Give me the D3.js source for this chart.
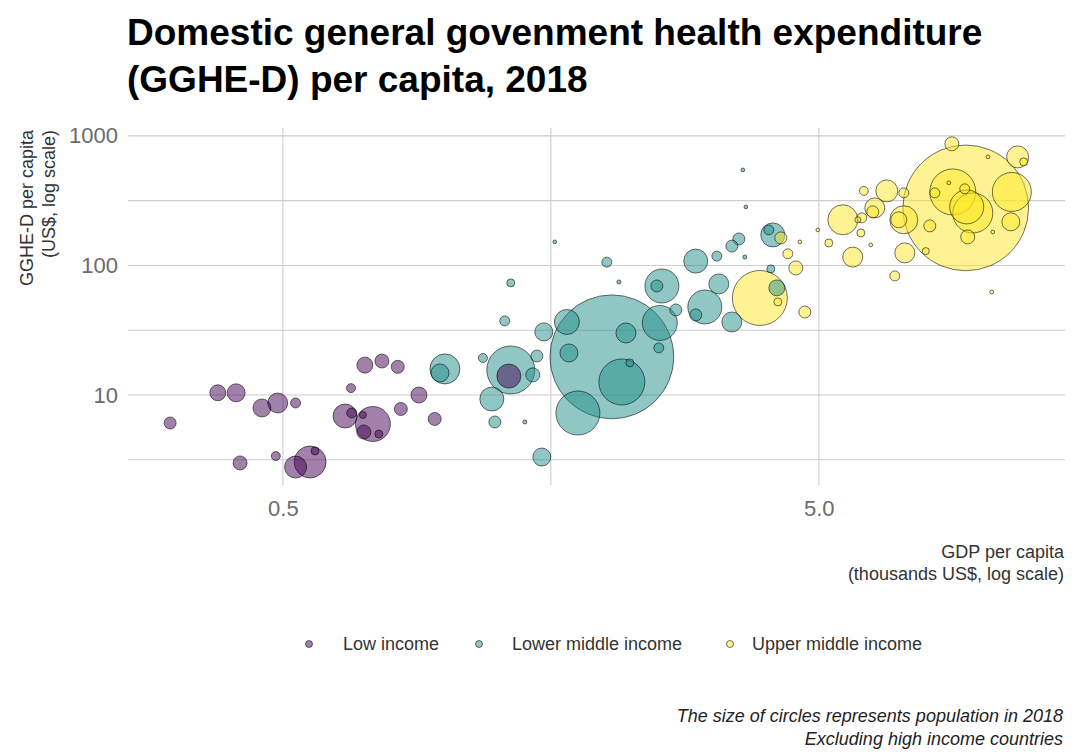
<!DOCTYPE html>
<html><head><meta charset="utf-8">
<script src="https://cdn.jsdelivr.net/npm/d3@7"></script>
<style>
body{margin:0;background:#fff;}
svg{display:block;font-family:"Liberation Sans",Arial,sans-serif;}
</style></head><body>
<svg id="chart" width="1072" height="754"></svg>
<script>
// ---------- data ----------
const groups = ["Low income", "Lower middle income", "Upper middle income"];
const groupColors = ["#440154", "#21908C", "#FDE725"];

// GDP per capita (thousands US$), GGHE-D per capita (US$), population (millions)
const lowGdp  = [0.308,0.378,0.409,0.416,0.457,0.489,0.528,0.485,0.562,0.528,0.574,0.670,0.711,0.765,0.819,0.897,0.830,0.960,0.653,0.736,0.672,0.705,0.708,0.755,1.320];
const lowGghe = [6.08,10.4,10.4,2.99,7.94,8.68,8.68,3.38,3.04,2.78,3.70,11.3,17.0,18.3,16.5,10.0,7.80,6.53,6.88,5.97,7.26,7.01,5.18,5.00,14.0];
const lowPop  = [7.5,15.6,20.8,11.2,20.8,26.7,4.5,3.3,77.8,33.4,2.3,3.3,15.6,11.2,9.3,15.6,9.3,9.3,40.8,94.8,4.5,1.5,11.2,2.3,40.8];

const lmGdp  = [1.608,2.011,1.331,2.118,1.297,2.548,2.493,2.947,3.064,2.055,1.694,1.534,2.183,2.525,2.705,1.709,2.514,2.145,2.22,1.776,1.331,1.463,1.489,1.181,1.227,1.243,1.414,1.521,1.003,0.982,3.608,3.655,4.103,4.033,3.547,3.441,3.226,3.639,3.254,2.947,3.441,4.068,4.175];
const lmGghe = [152,106,73.3,74.6,37.3,69.4,69.4,108,47.8,19.7,36.6,30.7,30.1,36.0,45.3,21.1,23.1,12.6,17.7,7.26,15.6,14.3,20.0,19.3,9.31,6.19,6.19,3.32,15.9,14.8,546,283,172,188,160,141,118,116,72.0,41.5,36.6,94.0,67.1];
const lmPop  = [0.05,4.5,2.3,0.09,4.5,88.9,7.5,40.8,88.9,1353,44.8,20.8,26.7,94.8,7.5,20.8,4.5,171,2.3,155.6,187,11.2,7.5,3.3,40.8,7.5,0.09,20.8,67.5,20.8,0.05,0.05,40.8,4.5,7.5,7.5,4.5,0.09,26.7,7.5,26.7,2.3,15.6];

const umGdp  = [4.247,3.881,4.193,4.377,4.53,4.708,5.22,4.609,4.979,5.544,5.914,6.016,5.99,5.785,6.067,6.359,6.304,6.696,6.25,7.204,7.05,7.204,7.235,6.93,7.917,8.055,9.40,8.891,9.44,9.69,9.36,8.23,8.74,8.855,11.75,12.06,10.34,11.46,11.41,9.48,10.56,10.51];
const umGghe = [163,56.1,52.3,123,95.7,43.7,149,152,188,225,225,233,178,116,376,278,259,376,144,225,225,363,125,83.0,129,202,278,369,283,254,390,363,434,868,688,630,688,369,217,166,181,62.4];
const umPop  = [7.5,250,2.3,4.5,11.2,7.5,2.3,0.05,0.05,67.5,0.83,4.5,2.3,26.7,3.3,26.7,7.5,33.4,0.05,57.8,15.6,4.5,26.7,4.5,1.5,7.5,1393,171,88.9,126.7,4.5,4.5,0.05,11.2,33.4,2.3,0.05,120,20.8,11.2,0.05,0.09];

const xTicks = [0.5, 5];
const xTickLabels = ["0.5", "5.0"];
const yTicks = [10, 100, 1000];
const yTickLabels = ["10", "100", "1000"];
const xLimits = [0.257, 14.4];
const yLimits = [2.02, 1150];
const popMax = 1400;

const titleLines = ["Domestic general govenment health expenditure", "(GGHE-D) per capita, 2018"];
const yTitleLines = ["GGHE-D per capita", "(US$, log scale)"];
const xTitleLines = ["GDP per capita", "(thousands US$, log scale)"];
const captionLines = ["The size of circles represents population in 2018", "Excluding high income countries"];

// ---------- build ----------
const seriesGdp = [lowGdp, lmGdp, umGdp];
const seriesGghe = [lowGghe, lmGghe, umGghe];
const seriesPop = [lowPop, lmPop, umPop];
const points = [];
groups.forEach((g, gi) => {
  seriesGdp[gi].forEach((v, i) => points.push({group: gi, gdp: v, gghe: seriesGghe[gi][i], pop: seriesPop[gi][i]}));
});
points.sort((a, b) => b.pop - a.pop);

const svg = d3.select("#chart");
const panel = {left: 128, right: 1065, top: 128, bottom: 485};

const x = d3.scaleLog().domain(xLimits).range([panel.left, panel.right]);
const y = d3.scaleLog().domain(yLimits).range([panel.bottom, panel.top]);
const r = d3.scaleSqrt().domain([0, popMax]).range([1.5, 63]);
const color = d3.scaleOrdinal().domain(d3.range(groups.length)).range(groupColors);

// minor gridlines (geometric midpoints between major breaks)
const xMajorAll = [0.05, 0.5, 5, 50];
const yMajorAll = [1, 10, 100, 1000, 10000];
const xMinor = d3.pairs(xMajorAll).map(([a, b]) => Math.sqrt(a * b)).filter(v => v > xLimits[0] && v < xLimits[1]);
const yMinor = d3.pairs(yMajorAll).map(([a, b]) => Math.sqrt(a * b)).filter(v => v > yLimits[0] && v < yLimits[1]);

const grid = svg.append("g").attr("stroke", "#cdcdcd").attr("stroke-width", 1.1);
grid.selectAll(".ymin").data(yMinor).join("line")
  .attr("x1", panel.left).attr("x2", panel.right).attr("y1", d => y(d)).attr("y2", d => y(d));
grid.selectAll(".xmin").data(xMinor).join("line")
  .attr("y1", panel.top).attr("y2", panel.bottom).attr("x1", d => x(d)).attr("x2", d => x(d));
grid.selectAll(".ymaj").data(yTicks).join("line")
  .attr("x1", panel.left).attr("x2", panel.right).attr("y1", d => y(d)).attr("y2", d => y(d));
grid.selectAll(".xmaj").data(xTicks).join("line")
  .attr("y1", panel.top).attr("y2", panel.bottom).attr("x1", d => x(d)).attr("x2", d => x(d));

// axes (labels only)
const yAxis = d3.axisLeft(y).tickValues(yTicks).tickFormat((d, i) => yTickLabels[i]).tickSize(0).tickPadding(10);
const gy = svg.append("g").attr("transform", `translate(${panel.left},0)`).call(yAxis);
gy.select(".domain").remove();
gy.selectAll("text").attr("font-size", 22).attr("fill", "#6b6b6b").attr("font-family", "Liberation Sans, Arial, sans-serif");

const xAxis = d3.axisBottom(x).tickValues(xTicks).tickFormat((d, i) => xTickLabels[i]).tickSize(0).tickPadding(15);
const gx = svg.append("g").attr("transform", `translate(0,${panel.bottom})`).call(xAxis);
gx.select(".domain").remove();
gx.selectAll("text").attr("font-size", 22).attr("fill", "#6b6b6b").attr("font-family", "Liberation Sans, Arial, sans-serif");

// bubbles
svg.append("g").selectAll("circle").data(points).join("circle")
  .attr("cx", d => x(d.gdp)).attr("cy", d => y(d.gghe)).attr("r", d => r(d.pop))
  .attr("fill", d => color(d.group)).attr("fill-opacity", 0.5)
  .attr("stroke", "#000").attr("stroke-opacity", 0.55).attr("stroke-width", 1);

// title
svg.append("g").selectAll("text").data(titleLines).join("text")
  .attr("x", 127).attr("y", (d, i) => 45 + i * 47)
  .attr("font-size", 37).attr("font-weight", "bold").attr("fill", "#000").text(d => d);

// y title
svg.append("g").selectAll("text").data(yTitleLines).join("text")
  .attr("transform", (d, i) => `translate(${33 + i * 22},130) rotate(-90)`)
  .attr("text-anchor", "end").attr("font-size", 18).attr("fill", "#333").text(d => d);

// x title
svg.append("g").selectAll("text").data(xTitleLines).join("text")
  .attr("x", 1064).attr("y", (d, i) => 558 + i * 22)
  .attr("text-anchor", "end").attr("font-size", 18).attr("fill", "#333").text(d => d);

// legend
const legendDotX = [309, 479, 730];
const legendTextX = [343, 512, 752];
const lg = svg.append("g");
lg.selectAll("circle").data(groups).join("circle")
  .attr("cx", (d, i) => legendDotX[i]).attr("cy", 644).attr("r", 3.5)
  .attr("fill", (d, i) => color(i)).attr("fill-opacity", 0.5)
  .attr("stroke", "#000").attr("stroke-opacity", 0.55);
lg.selectAll("text").data(groups).join("text")
  .attr("x", (d, i) => legendTextX[i]).attr("y", 650)
  .attr("font-size", 18).attr("fill", "#333").text(d => d);

// caption
svg.append("g").selectAll("text").data(captionLines).join("text")
  .attr("x", 1063).attr("y", (d, i) => 722 + i * 23)
  .attr("text-anchor", "end").attr("font-size", 18).attr("font-style", "italic").attr("fill", "#222").text(d => d);
</script>
</body></html>
